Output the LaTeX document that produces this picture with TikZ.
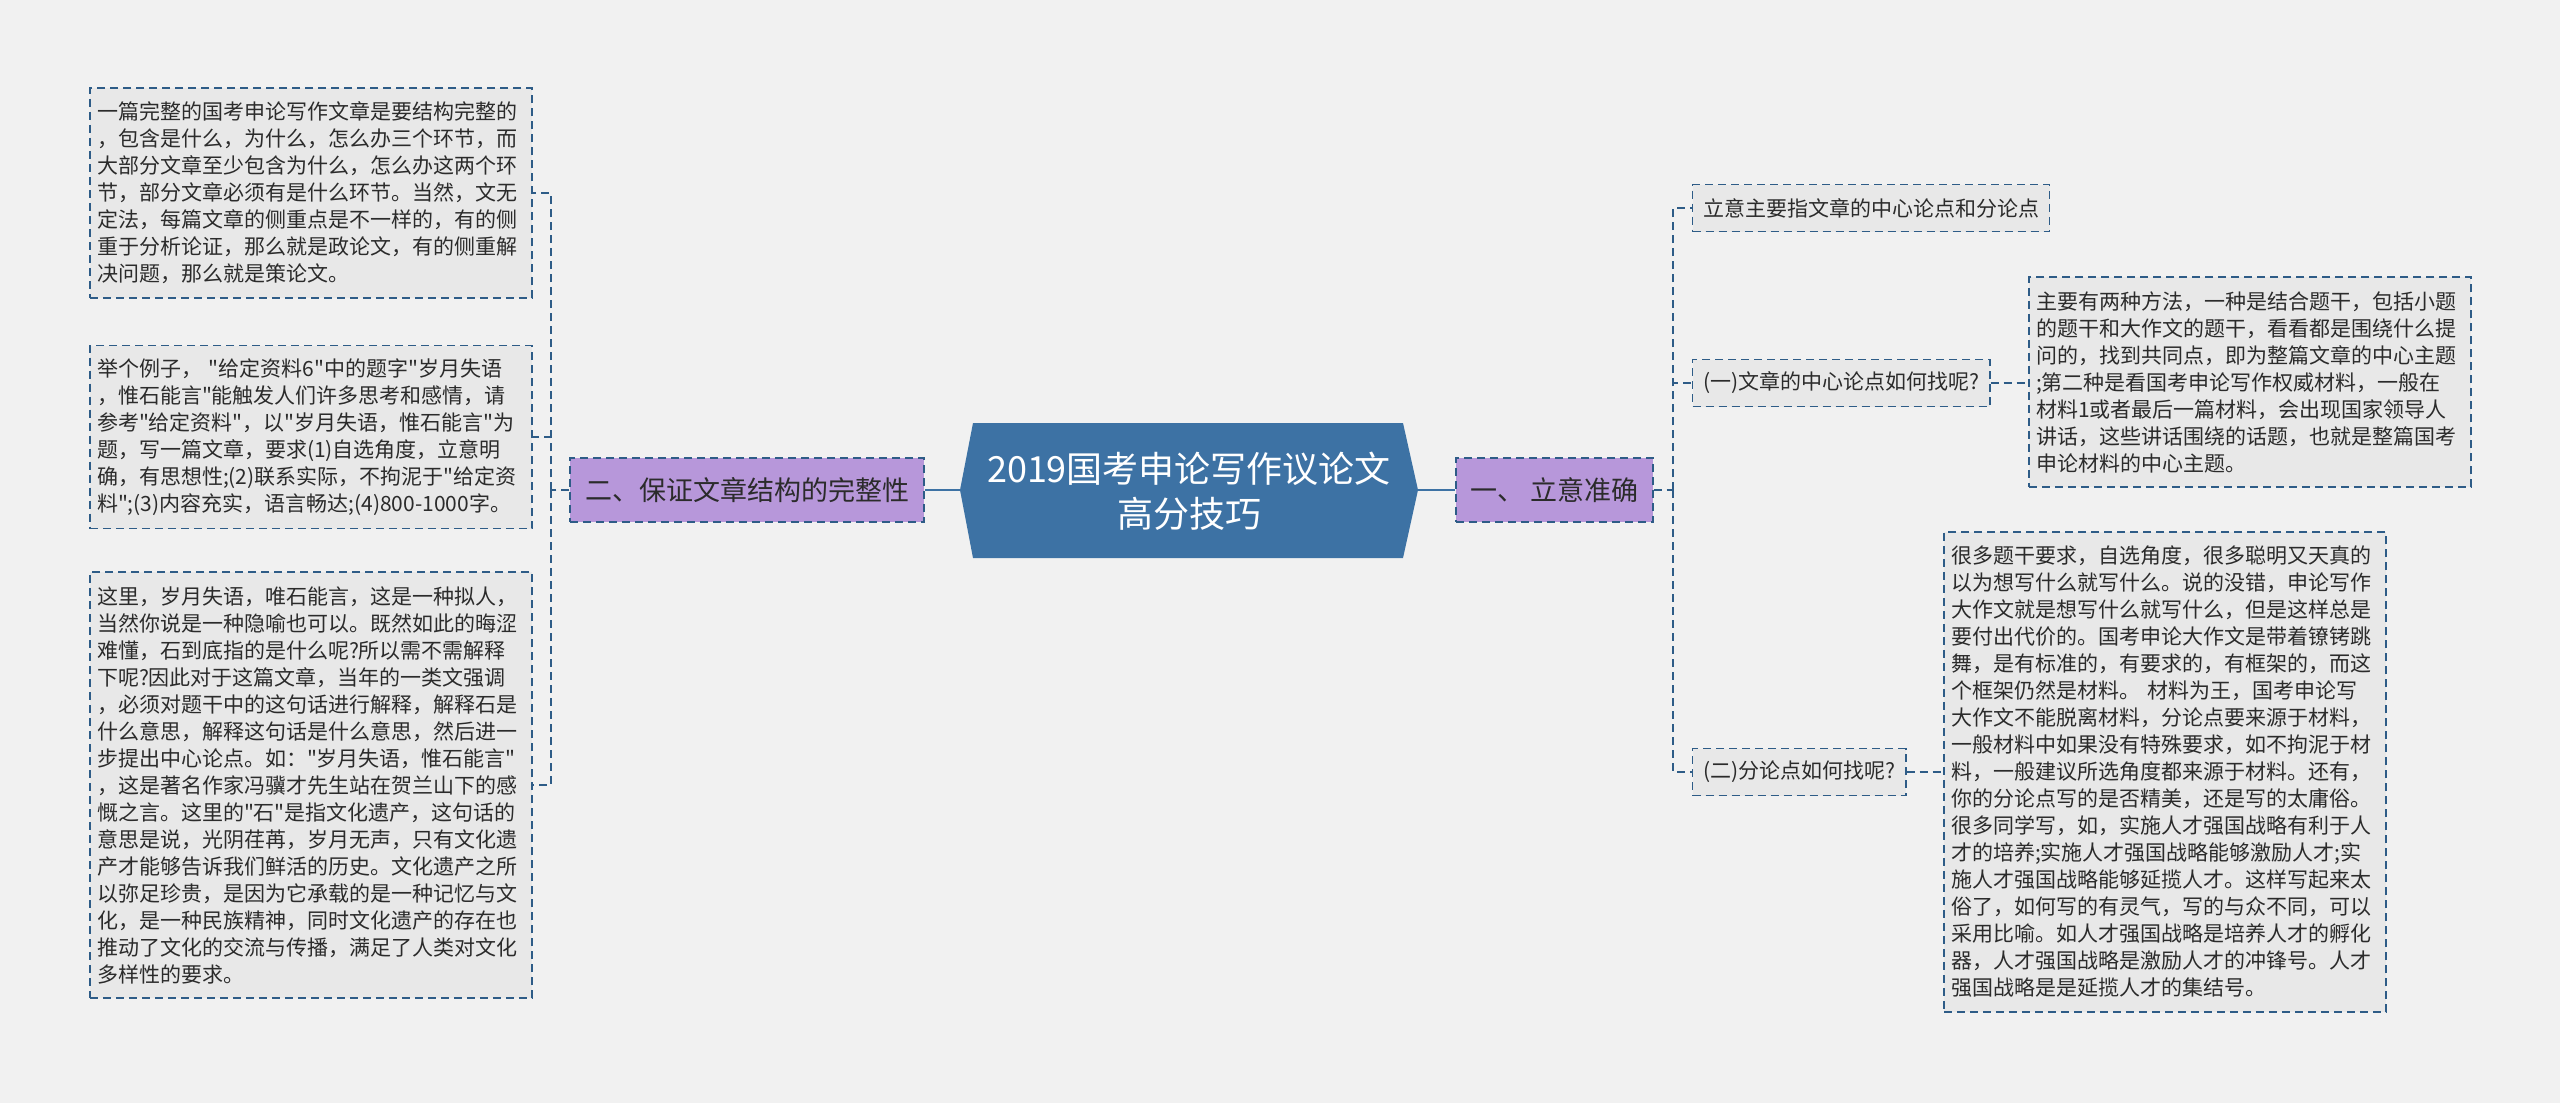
\documentclass[tikz,border=0pt]{standalone}
\usepackage{fontspec}
\setmainfont{Noto Sans CJK SC}[Ligatures=TeXOff]
\definecolor{bgc}{HTML}{F1F1F1}
\definecolor{boxc}{HTML}{E8E8E8}
\definecolor{bordc}{HTML}{2E5C87}
\definecolor{hexc}{HTML}{3D72A4}
\definecolor{purp}{HTML}{B797DA}
\definecolor{txtc}{HTML}{2B2B2B}
\begin{document}
\begin{tikzpicture}[x=0.5pt,y=-0.5pt,
  dsh/.style={dash pattern=on 4pt off 2.5pt, line width=0.7pt},
  box/.style={draw=bordc, fill=boxc, dsh, text=txtc,
    font=\fontsize{10.5pt}{13.5pt}\selectfont, align=left,
    text width=214pt, inner xsep=3.5pt, inner ysep=0pt, minimum width=221pt},
  sbox/.style={draw=bordc, fill=boxc, dsh, text=txtc,
    font=\fontsize{10.5pt}{13.5pt}\selectfont, inner xsep=5.25pt, inner ysep=0pt,
    minimum height=23.5pt, anchor=west},
  pbox/.style={draw=bordc, fill=purp, dsh, text=txtc,
    font=\fontsize{13.5pt}{16pt}\selectfont, inner xsep=0pt, inner ysep=0pt,
    minimum height=32pt},
  conn/.style={draw=bordc, dsh},
  mainc/.style={draw=hexc, line width=1.3pt}]
\useasboundingbox (0,0) rectangle (2560,1103);
\fill[bgc] (0,0) rectangle (2560,1103);
% central topic
\fill[hexc] (960,490) -- (973,423) -- (1403,423) -- (1418,490) -- (1403,558) -- (973,558) -- cycle;
\node[font=\fontsize{18pt}{22.5pt}\selectfont, text=white, align=center, inner sep=0pt] (title) at (1189,491) {2019国考申论写作议论文\\高分技巧};
\coordinate (hexL) at (960,490);
\coordinate (hexR) at (1418,490);
% main branches
\node[pbox, minimum width=98.5pt] (pR) at (1554.5,490) {一、 立意准确};
\node[pbox, minimum width=177pt] (pL) at (747,490) {二、保证文章结构的完整性};
% right side
\node[sbox] (s1) at (1692,208) {立意主要指文章的中心论点和分论点};
\node[sbox] (s2) at (1692,383) {(一)文章的中心论点如何找呢?};
\node[sbox] (s3) at (1692,772) {(二)分论点如何找呢?};
\node[box, minimum height=105pt] (R1) at (2250,382) {主要有两种方法，一种是结合题干，包括小题\\的题干和大作文的题干，看看都是围绕什么提\\问的，找到共同点，即为整篇文章的中心主题\\;第二种是看国考申论写作权威材料，一般在\\材料1或者最后一篇材料，会出现国家领导人\\讲话，这些讲话围绕的话题，也就是整篇国考\\申论材料的中心主题。};
\node[box, minimum height=240pt] (R2) at (2165,772) {很多题干要求，自选角度，很多聪明又天真的\\以为想写什么就写什么。说的没错，申论写作\\大作文就是想写什么就写什么，但是这样总是\\要付出代价的。国考申论大作文是带着镣铐跳\\舞，是有标准的，有要求的，有框架的，而这\\个框架仍然是材料。~材料为王，国考申论写\\大作文不能脱离材料，分论点要来源于材料，\\一般材料中如果没有特殊要求，如不拘泥于材\\料，一般建议所选角度都来源于材料。还有，\\你的分论点写的是否精美，还是写的太庸俗。\\很多同学写，如，实施人才强国战略有利于人\\才的培养;实施人才强国战略能够激励人才;实\\施人才强国战略能够延揽人才。这样写起来太\\俗了，如何写的有灵气，写的与众不同，可以\\采用比喻。如人才强国战略是培养人才的孵化\\器，人才强国战略是激励人才的冲锋号。人才\\强国战略是是延揽人才的集结号。};
% left side
\node[box, minimum height=105pt] (L1) at (311,193) {一篇完整的国考申论写作文章是要结构完整的\\，包含是什么，为什么，怎么办三个环节，而\\大部分文章至少包含为什么，怎么办这两个环\\节，部分文章必须有是什么环节。当然，文无\\定法，每篇文章的侧重点是不一样的，有的侧\\重于分析论证，那么就是政论文，有的侧重解\\决问题，那么就是策论文。};
\node[box, minimum height=91.5pt] (L2) at (311,437) {举个例子，~"给定资料6"中的题字"岁月失语\\，惟石能言"能触发人们许多思考和感情，请\\参考"给定资料"，以"岁月失语，惟石能言"为\\题，写一篇文章，要求(1)自选角度，立意明\\确，有思想性;(2)联系实际，不拘泥于"给定资\\料";(3)内容充实，语言畅达;(4)800\mbox{-}1000字。};
\node[box, minimum height=213pt] (L3) at (311,785) {这里，岁月失语，唯石能言，这是一种拟人，\\当然你说是一种隐喻也可以。既然如此的晦涩\\难懂，石到底指的是什么呢?所以需不需解释\\下呢?因此对于这篇文章，当年的一类文强调\\，必须对题干中的这句话进行解释，解释石是\\什么意思，解释这句话是什么意思，然后进一\\步提出中心论点。如："岁月失语，惟石能言"\\，这是著名作家冯骥才先生站在贺兰山下的感\\慨之言。这里的"石"是指文化遗产，这句话的\\意思是说，光阴荏苒，岁月无声，只有文化遗\\产才能够告诉我们鲜活的历史。文化遗产之所\\以弥足珍贵，是因为它承载的是一种记忆与文\\化，是一种民族精神，同时文化遗产的存在也\\推动了文化的交流与传播，满足了人类对文化\\多样性的要求。};
% connectors
\draw[mainc] (hexR) -- (pR.west);
\draw[mainc] (hexL) -- (pL.east);
\coordinate (busR) at (1673,490);
\draw[conn] (pR.east) -- (busR);
\draw[conn] (busR) |- (s1.west);
\draw[conn] (busR) |- (s2.west);
\draw[conn] (busR) |- (s3.west);
\draw[conn] (s2.east) -- (s2.east -| R1.west);
\draw[conn] (s3.east) -- (s3.east -| R2.west);
\coordinate (busL) at (551,490);
\draw[conn] (pL.west) -- (busL);
\draw[conn] (busL) |- (L1.east);
\draw[conn] (busL) |- (L2.east);
\draw[conn] (busL) |- (L3.east);
\end{tikzpicture}
\end{document}
